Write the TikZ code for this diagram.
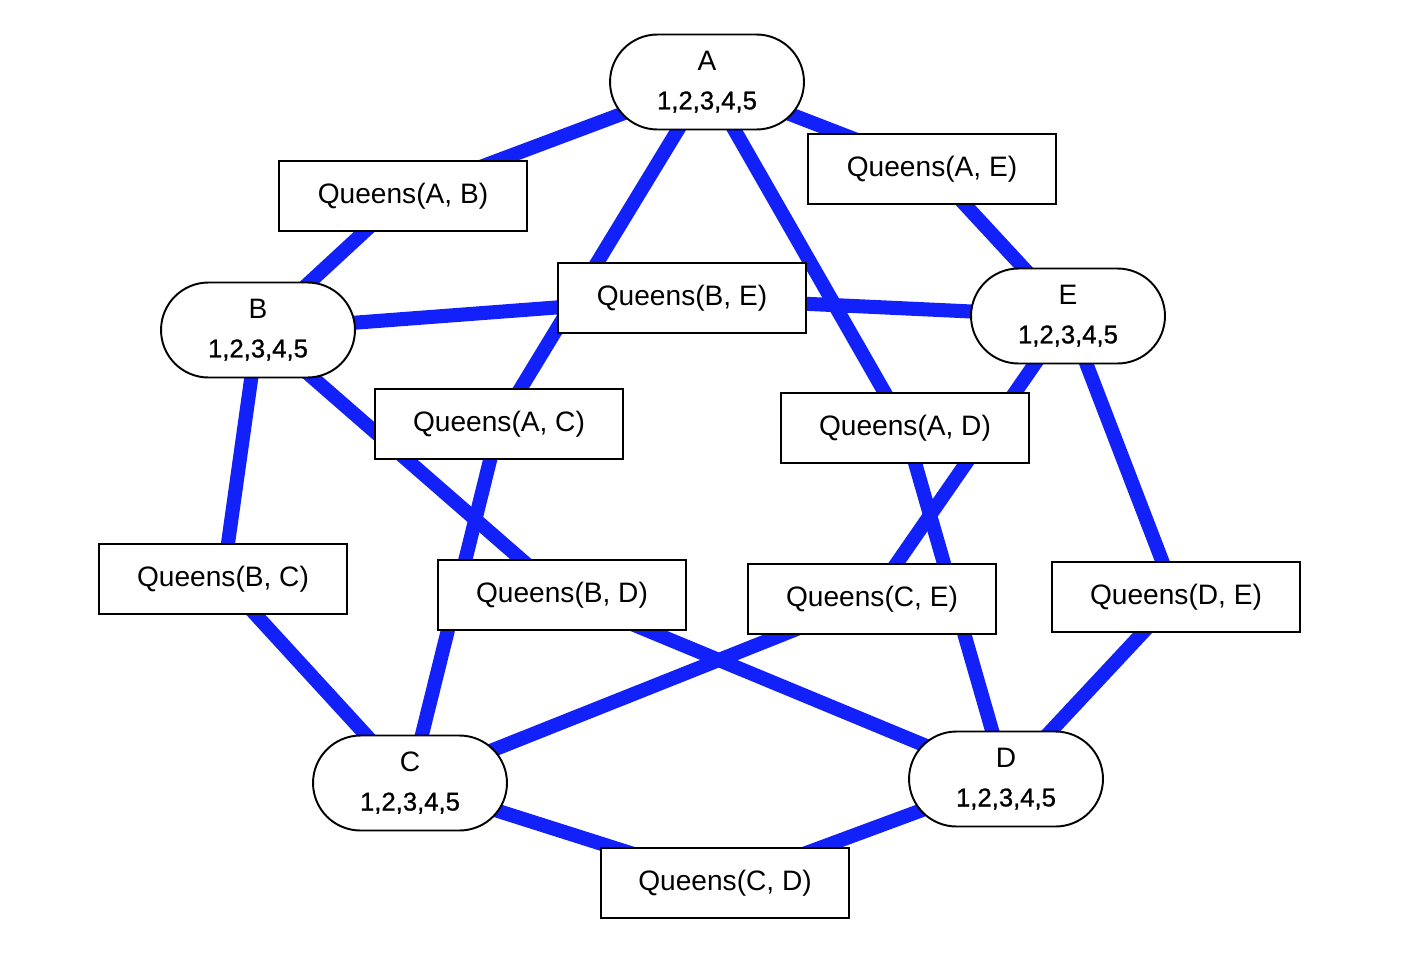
\documentclass[tikz,border=0pt]{standalone}
\usepackage{fontspec}
\setmainfont{Liberation Sans}
\newfontfamily\numfont[FakeBold=1]{Liberation Sans}
\usetikzlibrary{backgrounds}
\definecolor{edgeblue}{RGB}{18,32,250}

\begin{document}
\begin{tikzpicture}[x=0.02cm,y=-0.02cm,
  varnode/.style={draw,line width=1.1pt,fill=white,rounded corners=0.95cm,minimum width=3.88cm,minimum height=1.9cm,align=center,inner sep=2pt,font=\fontsize{16}{22}\selectfont},
  consbox/.style={draw,line width=1.1pt,fill=white,minimum width=4.96cm,minimum height=1.4cm,inner sep=2pt,font=\fontsize{16}{19}\selectfont},
  link/.style={line width=8pt,edgeblue}]
  \useasboundingbox (0,0) rectangle (1408,954);
  % variables
  \node[varnode] (A) at (707,82) {A\\{\numfont\fontsize{14.6}{22}\selectfont 1,2,3,4,5}};
  \node[varnode] (B) at (258,330) {B\\{\numfont\fontsize{14.6}{22}\selectfont 1,2,3,4,5}};
  \node[varnode] (E) at (1068,316) {E\\{\numfont\fontsize{14.6}{22}\selectfont 1,2,3,4,5}};
  \node[varnode] (C) at (410,783) {C\\{\numfont\fontsize{14.6}{22}\selectfont 1,2,3,4,5}};
  \node[varnode] (D) at (1006,779) {D\\{\numfont\fontsize{14.6}{22}\selectfont 1,2,3,4,5}};
  % constraints
  \node[consbox] (AB) at (403,196) {Queens(A, B)};
  \node[consbox] (AE) at (932,169) {Queens(A, E)};
  \node[consbox] (BE) at (682,298) {Queens(B, E)};
  \node[consbox] (AC) at (499,424) {Queens(A, C)};
  \node[consbox] (AD) at (905,428) {Queens(A, D)};
  \node[consbox] (BC) at (223,579) {Queens(B, C)};
  \node[consbox] (BD) at (562,595) {Queens(B, D)};
  \node[consbox] (CE) at (872,599) {Queens(C, E)};
  \node[consbox] (DE) at (1176,597) {Queens(D, E)};
  \node[consbox] (CD) at (725,883) {Queens(C, D)};
  \begin{pgfonlayer}{background}
    \foreach \x/\y in {A/AB,AB/B,A/AE,AE/E,A/AC,AC/C,A/AD,AD/D,B/BE,BE/E,B/BC,BC/C,B/BD,BD/D,C/CE,CE/E,C/CD,CD/D,D/DE,DE/E}{\draw[link] (\x.center)--(\y.center);}
  \end{pgfonlayer}
\end{tikzpicture}
\end{document}
